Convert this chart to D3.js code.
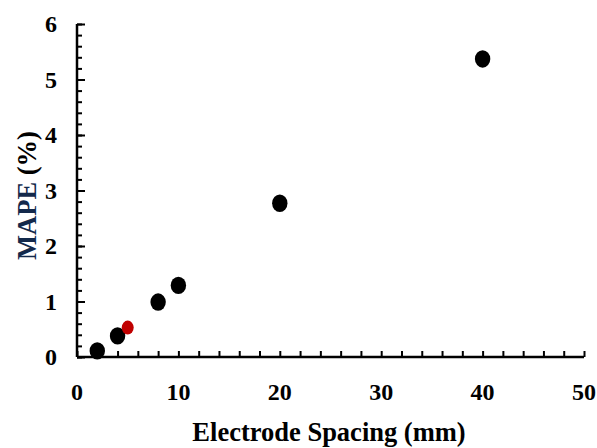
<!DOCTYPE html>
<html>
<head>
<meta charset="utf-8">
<script src="https://cdn.jsdelivr.net/npm/d3@7"></script>
<style>
  html, body { margin: 0; padding: 0; background: #fff; }
  svg { display: block; }
  text { font-family: "Liberation Serif", "Times New Roman", serif; font-weight: bold; }
</style>
</head>
<body>
<svg id="chart" width="597" height="448"></svg>
<script>
// ---- data ----
const spacingBlack = [2, 4, 8, 10, 20, 40];
const mapeBlack   = [0.11, 0.38, 0.99, 1.29, 2.77, 5.37];
const spacingRed  = [5];
const mapeRed     = [0.53];
const xTickLabels = [0, 10, 20, 30, 40, 50];
const yTickLabels = [0, 1, 2, 3, 4, 5, 6];
const xTitle = "Electrode Spacing (mm)";
const yTitleMain = "MAPE";
const yTitleUnit = "(%)";

const svg = d3.select("#chart");
svg.append("rect").attr("width", 597).attr("height", 448).attr("fill", "#fff");

const x = d3.scaleLinear().domain([0, 50]).range([77, 584]);
const y = d3.scaleLinear().domain([0, 6]).range([357, 24]);

// minor x ticks (every 2) pointing inward
const xAxis = d3.axisBottom(x).tickValues(d3.range(0, 50.001, 2)).tickSize(-6).tickFormat("");
const gx = svg.append("g").attr("transform", `translate(0,${y(0)})`).call(xAxis);
gx.select(".domain").attr("stroke", "#000").attr("stroke-width", 2.5).attr("d", `M${x(0)},0H${x(50)}`);
gx.selectAll(".tick line").attr("stroke", "#000").attr("stroke-width", 2);

// y ticks
const yMinor = d3.axisLeft(y).tickValues(d3.range(0, 6.001, 0.2)).tickSize(-5).tickFormat("");
const gyMinor = svg.append("g").attr("transform", `translate(${x(0)},0)`).call(yMinor);
gyMinor.select(".domain").attr("stroke", "#000").attr("stroke-width", 2.5).attr("d", `M0,${y(6)}V${y(0)}`);
gyMinor.selectAll(".tick line").attr("stroke", "#000").attr("stroke-width", 2);
const yMajor = d3.axisLeft(y).tickValues(yTickLabels).tickSize(-8).tickFormat("");
const gyMajor = svg.append("g").attr("transform", `translate(${x(0)},0)`).call(yMajor);
gyMajor.select(".domain").remove();
gyMajor.selectAll(".tick line").attr("stroke", "#000").attr("stroke-width", 2);

// tick labels
svg.append("g").selectAll("text").data(xTickLabels).join("text")
  .attr("x", d => x(d)).attr("y", 400)
  .attr("text-anchor", "middle").attr("font-size", 24).attr("fill", "#000")
  .text(d => d);
svg.append("g").selectAll("text").data(yTickLabels).join("text")
  .attr("x", 57).attr("y", d => y(d)).attr("dy", "0.35em")
  .attr("text-anchor", "end").attr("font-size", 24).attr("fill", "#000")
  .text(d => d);

// axis titles
svg.append("text").attr("x", 329).attr("y", 441)
  .attr("text-anchor", "middle").attr("font-size", 26.5).attr("fill", "#000")
  .text(xTitle);
const yt = svg.append("text")
  .attr("transform", `translate(36,${(y(0) + y(6)) / 2 + 5}) rotate(-90)`)
  .attr("text-anchor", "middle").attr("font-size", 26.5);
yt.append("tspan").attr("fill", "#13294b").text(yTitleMain);
yt.append("tspan").attr("fill", "#000").text(" " + yTitleUnit);

// points
svg.append("g").selectAll("ellipse").data(spacingBlack.map((s, i) => [s, mapeBlack[i]])).join("ellipse")
  .attr("cx", d => x(d[0])).attr("cy", d => y(d[1]))
  .attr("rx", 7.7).attr("ry", 8.7).attr("fill", "#000");
svg.append("g").selectAll("ellipse").data(spacingRed.map((s, i) => [s, mapeRed[i]])).join("ellipse")
  .attr("cx", d => x(d[0])).attr("cy", d => y(d[1]))
  .attr("rx", 6).attr("ry", 7).attr("fill", "#c00000");
</script>
</body>
</html>
